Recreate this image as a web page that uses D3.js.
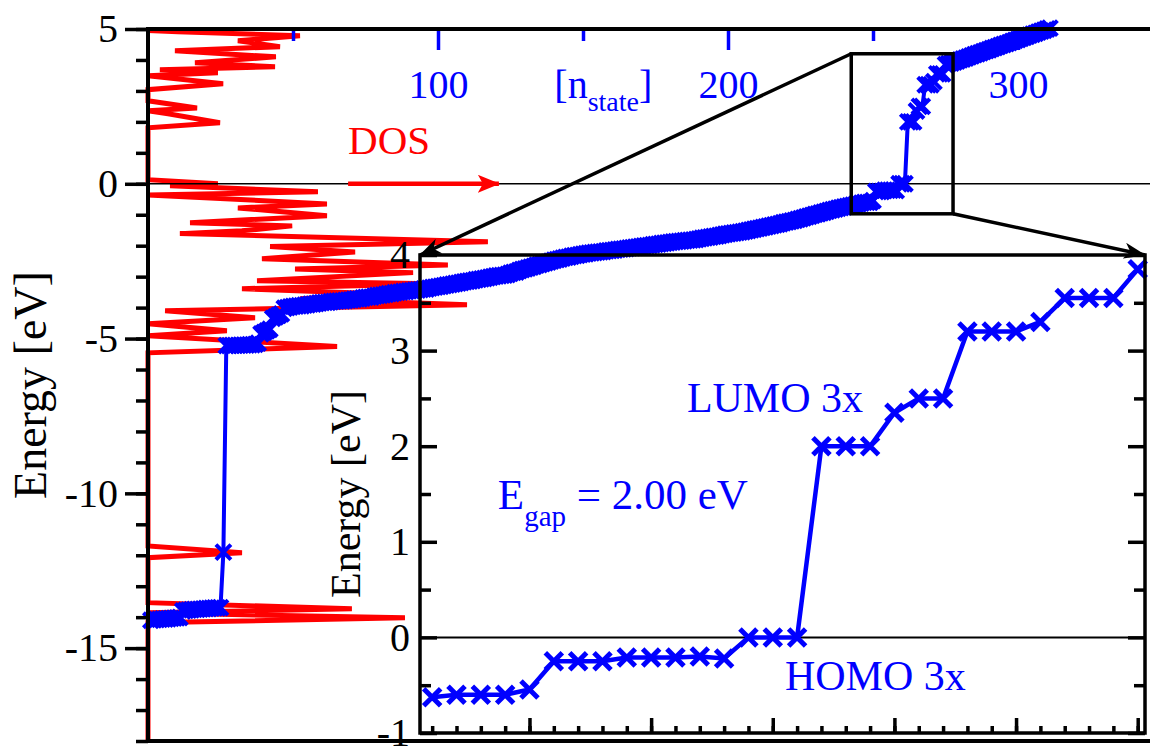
<!DOCTYPE html>
<html>
<head>
<meta charset="utf-8">
<style>
  body { margin: 0; background: #fff; }
  svg { display: block; }
  svg text { font-family: 'Liberation Serif', 'Times New Roman', 'DejaVu Serif', serif !important; }
  .domain { display: none; }
  .tick line { stroke-width: 3.5; }
  .blue .tick line { stroke: #0000ff; }
  .blue .tick text { fill: #0000ff; }
</style>
</head>
<body>
<svg width="1150" height="746"></svg>
<script src="https://d3js.org/d3.v7.min.js"></script>
<script>
// Kohn-Sham eigenvalues [eV], state n = 1, 2, 3 ...
let coreStates = [-14.10, -14.09, -14.08, -14.07, -14.06, -14.06, -14.05, -14.04, -14.03, -14.02, -14.01,
    -13.80, -13.78, -13.77, -13.76, -13.75, -13.75, -13.74, -13.73, -13.72, -13.72, -13.71, -13.70, -13.70, -13.69,
    -11.90];
let lowStates = [-5.23, -5.23, -5.22, -5.22, -5.22, -5.21, -5.21, -5.21, -5.20, -5.20, -5.19, -5.15,
    -4.85, -4.80, -4.75, -4.70, -4.35, -4.30, -4.25, -4.20, -4.02, -4.00, -3.98, -3.96];
let valenceStates = [
    -3.95, -3.94, -3.94, -3.92, -3.91, -3.89, -3.89, -3.87, -3.85, -3.84,
    -3.83, -3.83, -3.81, -3.80, -3.79, -3.78, -3.78, -3.77, -3.76, -3.75,
    -3.73, -3.72, -3.72, -3.69, -3.67, -3.66, -3.66, -3.63, -3.61, -3.60,
    -3.59, -3.57, -3.55, -3.55, -3.52, -3.51, -3.50, -3.48, -3.48, -3.46,
    -3.45, -3.44, -3.43, -3.42, -3.40, -3.40, -3.37, -3.35, -3.34, -3.32,
    -3.31, -3.29, -3.27, -3.26, -3.24, -3.22, -3.21, -3.19, -3.17, -3.15,
    -3.14, -3.13, -3.10, -3.09, -3.07, -3.06, -3.04, -3.02, -3.00, -2.98,
    -2.97, -2.96, -2.95, -2.93, -2.89, -2.86, -2.85, -2.80, -2.77, -2.75,
    -2.72, -2.69, -2.67, -2.63, -2.61, -2.58, -2.55, -2.53, -2.50, -2.47,
    -2.45, -2.43, -2.40, -2.38, -2.37, -2.34, -2.32, -2.31, -2.29, -2.27,
    -2.26, -2.24, -2.23, -2.22, -2.21, -2.20, -2.19, -2.17, -2.16, -2.15,
    -2.14, -2.12, -2.11, -2.10, -2.09, -2.07, -2.06, -2.05, -2.04, -2.02,
    -2.01, -2.00, -1.99, -1.97, -1.96, -1.95, -1.93, -1.92, -1.91, -1.89,
    -1.88, -1.87, -1.86, -1.85, -1.84, -1.83, -1.82, -1.81, -1.80, -1.78,
    -1.76, -1.75, -1.73, -1.72, -1.70, -1.69, -1.67, -1.65, -1.63, -1.62,
    -1.60, -1.59, -1.58, -1.56, -1.55, -1.53, -1.51, -1.49, -1.47, -1.45,
    -1.43, -1.41, -1.39, -1.37, -1.35, -1.33, -1.31, -1.29, -1.26, -1.24,
    -1.22, -1.20, -1.18, -1.15, -1.13, -1.10, -1.07, -1.05, -1.02, -0.99,
    -0.97, -0.94, -0.92, -0.89, -0.86, -0.84, -0.82, -0.79, -0.77, -0.75,
    -0.73, -0.71, -0.69, -0.67, -0.65];
// states 246 ... 275, the ones shown in the inset
let gapStates = [-0.625, -0.60, -0.60, -0.60, -0.545, -0.25, -0.25, -0.25, -0.21, -0.21,
    -0.21, -0.20, -0.22, 0.00, 0.00, 0.00, 2.00, 2.00, 2.00, 2.35,
    2.50, 2.50, 3.20, 3.20, 3.20, 3.30, 3.55, 3.55, 3.55, 3.85];
let upperStates = [3.88, 3.90, 3.93, 3.96, 4.00, 4.03, 4.06, 4.10, 4.13, 4.17,
    4.20, 4.23, 4.27, 4.30, 4.33, 4.37, 4.40, 4.43, 4.47, 4.50,
    4.53, 4.56, 4.60, 4.63, 4.66, 4.70, 4.73, 4.76, 4.80, 4.83,
    4.86, 4.90, 4.93, 4.96, 5.00, 5.03];

// density of states (same horizontal units as n_state)
let dosEnergy = [4.95, 4.91, 4.78, 4.62, 4.43, 4.30, 4.10, 3.91, 3.78, 3.68, 3.59, 3.49, 3.23, 3.04, 2.68, 2.45, 2.36, 2.26, 1.97, 1.81,
    0.13, 0.00, -0.06, -0.26, -0.36, -0.65, -0.78, -1.03, -1.26, -1.36, -1.52, -1.61, -1.87, -2.03, -2.20, -2.42,
    -2.62, -2.75, -2.87, -3.13, -3.23, -3.39, -3.55, -3.71, -3.91, -4.10, -4.33, -4.52, -4.75, -4.91, -5.26, -5.46,
    -11.70, -11.92, -12.08, -13.53, -13.73, -13.86, -14.02, -14.18, -18.0];
let dosValue = [0, 10.3, 52.4, 31.0, 45.5, 9.3, 44.1, 16.2, 43.8, 4.1, 24.1, 0, 25.9, 0, 0, 16.9, 0, 6.9, 24.8, 0,
    0, 24.1, 7.6, 58.6, 0, 61.7, 31.0, 61.7, 14.5, 49.7, 32.4, 11.0, 117.2, 42.1, 71.4, 39.3,
    103.4, 50.7, 91.4, 37.6, 97.9, 32.4, 80.0, 52.4, 110.0, 5.9, 36.9, 0, 27.2, 0, 65.2, 0,
    0, 32.4, 0, 0, 70.3, 0, 88.6, 0, 0];

let mainYTicks = [-15, -10, -5, 0, 5];
let topTicks = [100, 200, 300];
let topMinorTicks = [50, 150, 250];
let insetYTicks = [-1, 0, 1, 2, 3, 4];
let insetXTicks = [250, 255, 260, 265, 270, 275];
let zoomStates = [242.5, 277.6];
let zoomEnergy = [-0.97, 4.2];
let insetFirstState = 246;

let energies = [].concat(coreStates, lowStates, valenceStates, gapStates, upperStates);
let states = energies.map((e, i) => ({ n: i + 1, e: e }));
let insetData = states.filter(d => d.n >= insetFirstState && d.n < insetFirstState + gapStates.length);
let dos = dosEnergy.map((e, i) => ({ e: e, v: dosValue[i] }));

let svg = d3.select("svg");
let blue = "#0000ff", red = "#ff0000";

let x = d3.scaleLinear().domain([0, 350]).range([148, 1163]);
let y = d3.scaleLinear().domain([-18, 5]).range([741, 29]);
let ix = d3.scaleLinear().domain([245.5, 275.3]).range([420, 1145]);
let iy = d3.scaleLinear().domain([-1, 4]).range([733, 255]);

let defs = svg.append("defs");
defs.append("marker").attr("id", "headBlack")
    .attr("viewBox", "0 0 22 16").attr("refX", 21).attr("refY", 8)
    .attr("markerWidth", 22).attr("markerHeight", 16)
    .attr("markerUnits", "userSpaceOnUse").attr("orient", "auto")
    .append("path").attr("d", "M0,0 L22,8 L0,16 L6,8 Z").attr("fill", "#000");
defs.append("marker").attr("id", "headRed")
    .attr("viewBox", "0 0 22 18").attr("refX", 21).attr("refY", 9)
    .attr("markerWidth", 22).attr("markerHeight", 18)
    .attr("markerUnits", "userSpaceOnUse").attr("orient", "auto")
    .append("path").attr("d", "M0,0 L22,9 L0,18 L5,9 Z").attr("fill", red);

// ---- main plot
svg.append("path")
    .datum(dos)
    .attr("fill", "none")
    .attr("stroke", red)
    .attr("stroke-width", 5)
    .attr("stroke-linejoin", "miter")
    .attr("stroke-miterlimit", 2)
    .attr("d", d3.line().x(d => x(d.v)).y(d => y(d.e)));

svg.append("line")
    .attr("x1", x(0)).attr("x2", x(350))
    .attr("y1", y(0)).attr("y2", y(0))
    .attr("stroke", "#000").attr("stroke-width", 1.5);

svg.append("path")
    .datum(states)
    .attr("fill", "none")
    .attr("stroke", blue)
    .attr("stroke-width", 4)
    .attr("d", d3.line().x(d => x(d.n)).y(d => y(d.e)));

let cross = s => `M${-s},${-s}L${s},${s}M${-s},${s}L${s},${-s}`;

svg.append("g")
    .selectAll("path")
    .data(states)
    .join("path")
    .attr("transform", d => `translate(${x(d.n)},${y(d.e)})`)
    .attr("d", cross(7.5))
    .attr("stroke", blue)
    .attr("stroke-width", 4)
    .attr("fill", "none");

// left energy axis
svg.append("g")
    .attr("transform", `translate(${x(0)},0)`)
    .call(d3.axisLeft(y).tickValues(d3.range(-18, 6)).tickSize(12).tickSizeOuter(0).tickFormat(""));
svg.append("g")
    .attr("transform", `translate(${x(0)},0)`)
    .call(d3.axisLeft(y).tickValues(mainYTicks).tickSize(23).tickSizeOuter(0).tickPadding(7).tickFormat(d => String(d)))
    .selectAll("text").attr("font-size", "40px").attr("fill", "#000");

// top n_state axis
svg.append("g")
    .attr("class", "blue")
    .attr("transform", `translate(0,${y(5)})`)
    .call(d3.axisBottom(x).tickValues(topMinorTicks).tickSize(12).tickSizeOuter(0).tickFormat(""));
svg.append("g")
    .attr("class", "blue")
    .attr("transform", `translate(0,${y(5)})`)
    .call(d3.axisBottom(x).tickValues(topTicks).tickSize(21).tickSizeOuter(0).tickPadding(20).tickFormat(d => String(d)))
    .selectAll("text").attr("font-size", "40px");

let nLabel = svg.append("text")
    .attr("x", x(157)).attr("y", 98)
    .attr("text-anchor", "middle")
    .attr("font-size", "40px")
    .attr("fill", blue);
nLabel.append("tspan").text("[n");
nLabel.append("tspan").attr("font-size", "28px").attr("dy", 13).text("state");
nLabel.append("tspan").attr("dy", -13).text("]");

// frame
svg.append("path")
    .attr("d", `M${x(350)},${y(5)}H${x(0)}V${y(-18)}H${x(350)}`)
    .attr("fill", "none").attr("stroke", "#000").attr("stroke-width", 4);

svg.append("text")
    .attr("transform", `translate(46,${(y(5) + y(-18)) / 2}) rotate(-90)`)
    .attr("text-anchor", "middle")
    .attr("font-size", "46px")
    .text("Energy [eV]");

// DOS label and arrow
svg.append("text")
    .attr("x", x(69)).attr("y", y(0.97))
    .attr("font-size", "41px").attr("fill", red)
    .text("DOS");
svg.append("line")
    .attr("x1", x(69)).attr("x2", x(121))
    .attr("y1", y(0)).attr("y2", y(0))
    .attr("stroke", red).attr("stroke-width", 4.5)
    .attr("marker-end", "url(#headRed)");

// zoom box and connector arrows
svg.append("rect")
    .attr("x", x(zoomStates[0])).attr("y", y(zoomEnergy[1]))
    .attr("width", x(zoomStates[1]) - x(zoomStates[0]))
    .attr("height", y(zoomEnergy[0]) - y(zoomEnergy[1]))
    .attr("fill", "none").attr("stroke", "#000").attr("stroke-width", 3.5);
svg.append("line")
    .attr("x1", x(zoomStates[0])).attr("y1", y(zoomEnergy[1]))
    .attr("x2", ix(245.5)).attr("y2", iy(4))
    .attr("stroke", "#000").attr("stroke-width", 3.5)
    .attr("marker-end", "url(#headBlack)");
svg.append("line")
    .attr("x1", x(zoomStates[1])).attr("y1", y(zoomEnergy[0]))
    .attr("x2", ix(275.3)).attr("y2", iy(4))
    .attr("stroke", "#000").attr("stroke-width", 3.5)
    .attr("marker-end", "url(#headBlack)");

// ---- inset
let inset = svg.append("g");

inset.append("line")
    .attr("x1", ix(245.5)).attr("x2", ix(275.3))
    .attr("y1", iy(0)).attr("y2", iy(0))
    .attr("stroke", "#000").attr("stroke-width", 2);

inset.append("path")
    .datum(insetData)
    .attr("fill", "none")
    .attr("stroke", blue)
    .attr("stroke-width", 4.5)
    .attr("d", d3.line().x(d => ix(d.n)).y(d => iy(d.e)));

inset.append("g")
    .selectAll("path")
    .data(insetData)
    .join("path")
    .attr("transform", d => `translate(${ix(d.n)},${iy(d.e)})`)
    .attr("d", cross(8.5))
    .attr("stroke", blue)
    .attr("stroke-width", 5)
    .attr("fill", "none");

inset.append("g")
    .attr("transform", `translate(${ix(245.5)},0)`)
    .call(d3.axisLeft(iy).tickValues(d3.range(-0.5, 4, 1)).tickSize(-11).tickSizeOuter(0).tickFormat(""));
inset.append("g")
    .attr("transform", `translate(${ix(245.5)},0)`)
    .call(d3.axisLeft(iy).tickValues(insetYTicks).tickSize(-17).tickSizeOuter(0).tickPadding(10).tickFormat(d => String(d)))
    .selectAll("text").attr("font-size", "40px").attr("fill", "#000");
inset.append("g")
    .attr("transform", `translate(${ix(275.3)},0)`)
    .call(d3.axisRight(iy).tickValues(d3.range(-0.5, 4, 1)).tickSize(-11).tickSizeOuter(0).tickFormat(""));
inset.append("g")
    .attr("transform", `translate(${ix(275.3)},0)`)
    .call(d3.axisRight(iy).tickValues(insetYTicks).tickSize(-17).tickSizeOuter(0).tickFormat(""));
inset.append("g")
    .attr("transform", `translate(0,${iy(-1)})`)
    .call(d3.axisBottom(ix).tickValues(d3.range(246, 276)).tickSize(-7).tickSizeOuter(0).tickFormat(""));
inset.append("g")
    .attr("transform", `translate(0,${iy(-1)})`)
    .call(d3.axisBottom(ix).tickValues(insetXTicks).tickSize(-15).tickSizeOuter(0).tickFormat(""));

inset.append("rect")
    .attr("x", ix(245.5)).attr("y", iy(4))
    .attr("width", ix(275.3) - ix(245.5))
    .attr("height", iy(-1) - iy(4))
    .attr("fill", "none").attr("stroke", "#000").attr("stroke-width", 3.5);

inset.append("text")
    .attr("transform", `translate(360,${(iy(4) + iy(-1)) / 2}) rotate(-90)`)
    .attr("text-anchor", "middle")
    .attr("font-size", "42px")
    .text("Energy [eV]");

inset.append("text")
    .attr("x", ix(256.47)).attr("y", iy(2.36))
    .attr("font-size", "42px").attr("fill", blue)
    .text("LUMO 3x");
inset.append("text")
    .attr("x", ix(260.5)).attr("y", iy(-0.555))
    .attr("font-size", "42px").attr("fill", blue)
    .text("HOMO 3x");
let gap = inset.append("text")
    .attr("x", ix(248.7)).attr("y", iy(1.34))
    .attr("font-size", "43px").attr("fill", blue);
gap.append("tspan").text("E");
gap.append("tspan").attr("font-size", "29px").attr("dy", 17).text("gap");
gap.append("tspan").attr("dy", -17).text(" = 2.00 eV");
</script>
</body>
</html>
